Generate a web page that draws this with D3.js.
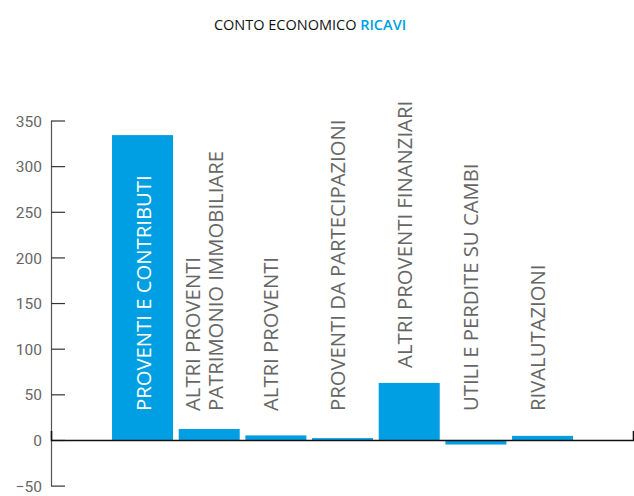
<!DOCTYPE html>
<html>
<head>
<meta charset="utf-8">
<script src="https://cdn.jsdelivr.net/npm/d3@7"></script>
<style>
  html, body { margin: 0; padding: 0; background: #fff; }
  svg { display: block; font-family: "Open Sans", "Noto Sans", sans-serif; }
</style>
</head>
<body>
<svg id="chart" width="634" height="496"></svg>
<script>
// Revenue items of the income statement
const categories = [
  ["PROVENTI E CONTRIBUTI"],
  ["ALTRI PROVENTI", "PATRIMONIO IMMOBILIARE"],
  ["ALTRI PROVENTI"],
  ["PROVENTI DA PARTECIPAZIONI"],
  ["ALTRI PROVENTI FINANZIARI"],
  ["UTILI E PERDITE SU CAMBI"],
  ["RIVALUTAZIONI"]
];
const values = [334, 12, 5, 2, 62.5, -5, 4.5];
const yTicks = [-50, 0, 50, 100, 150, 200, 250, 300, 350];

const BLUE = "#009fe3";
const svg = d3.select("#chart");

// Title
const title = svg.append("text")
  .attr("x", 310).attr("y", 30)
  .attr("text-anchor", "middle")
  .attr("font-size", 14.5)
  .attr("fill", "#111");
title.append("tspan").text("CONTO ECONOMICO ");
title.append("tspan").attr("fill", BLUE).attr("font-weight", 600).text("RICAVI");

const left = 51, right = 633;
const y = d3.scaleLinear().domain([-50, 350]).range([485.6, 120.5]);
const x = d3.scaleBand()
  .domain(d3.range(categories.length))
  .range([109.2, 575.9])
  .paddingInner(0.085)
  .paddingOuter(0.0425);

// Bars
svg.append("g").selectAll("rect")
  .data(values)
  .join("rect")
  .attr("x", (d, i) => x(i))
  .attr("width", x.bandwidth())
  .attr("y", d => y(Math.max(0, d)))
  .attr("height", d => Math.abs(y(d) - y(0)))
  .attr("fill", BLUE);

// Y axis, ticks pointing into the plot
const yAxis = svg.append("g")
  .attr("transform", `translate(${left},0)`)
  .call(d3.axisLeft(y).tickValues(yTicks).tickSize(-14).tickSizeOuter(0).tickPadding(9));
yAxis.select(".domain").attr("stroke", "#555").attr("stroke-width", 1.2);
yAxis.selectAll(".tick line").attr("stroke", "#333").attr("stroke-width", 1.2);
yAxis.selectAll(".tick text")
  .attr("fill", "#666")
  .attr("font-size", 15.5)
  .attr("font-family", "Roboto, sans-serif")
  .attr("dy", "0.36em");

// Zero baseline with short end marks
const base = d3.scaleLinear().range([left, right]);
const xAxis = svg.append("g")
  .attr("transform", `translate(0,${y(0)})`)
  .call(d3.axisBottom(base).tickValues([]).tickSizeOuter(-9));
xAxis.select(".domain").attr("stroke", "#111").attr("stroke-width", 1.6);

// Rotated category labels: first one sits inside its bar, the others above the baseline
const labelBottom = 411;
const lineGap = 23;
const labels = svg.append("g").selectAll("text")
  .data(categories)
  .join("text")
  .attr("transform", (d, i) => {
    const top = y(Math.max(0, values[i]));
    const yb = i === 0 ? labelBottom : Math.min(labelBottom, top - 15);
    const cx = x(i) + x.bandwidth() / 2;
    const xOff = (d.length - 1) * lineGap / 2;
    const shift = i === 0 ? 8.3 : 2.5;
    return `translate(${cx - xOff + shift},${yb}) rotate(-90)`;
  })
  .attr("font-size", 20.3)
  .attr("fill", (d, i) => i === 0 ? "#fff" : "#666");
labels.selectAll("tspan")
  .data(d => d)
  .join("tspan")
  .attr("x", 0)
  .attr("dy", (d, j) => j === 0 ? 0 : lineGap)
  .text(d => d);
</script>
</body>
</html>
